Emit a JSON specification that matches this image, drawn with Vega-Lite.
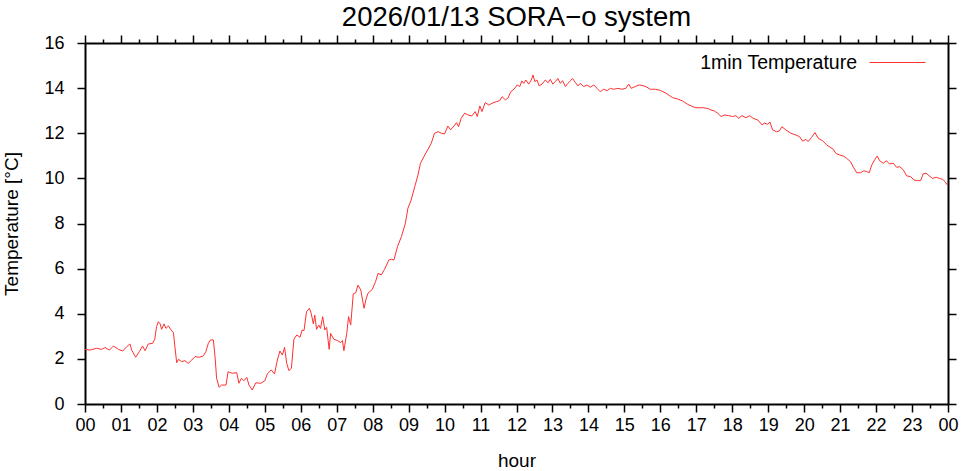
{
"$schema": "https://vega.github.io/schema/vega-lite/v6.json",
"width": 863, "height": 361,
"autosize": "none",
"padding": {"left": 85, "top": 43, "right": 13, "bottom": 67},
"background": "white",
"title": {"text": "2026/01/13 SORA−o system", "font": "Liberation Sans", "fontSize": 27.5, "fontWeight": "normal", "color": "black", "offset": 3, "anchor": "middle"},
"config": {"view": {"stroke": null}, "font": "Liberation Sans"},
"data": {"values": [
{"hour":0.00,"temp":2.42},{"hour":0.14,"temp":2.39},{"hour":0.32,"temp":2.47},{"hour":0.46,"temp":2.42},{"hour":0.56,"temp":2.50},{"hour":0.68,"temp":2.39},{"hour":0.79,"temp":2.57},{"hour":0.93,"temp":2.42},{"hour":1.05,"temp":2.35},{"hour":1.16,"temp":2.54},{"hour":1.25,"temp":2.66},{"hour":1.30,"temp":2.39},{"hour":1.41,"temp":2.07},{"hour":1.51,"temp":2.32},{"hour":1.60,"temp":2.57},{"hour":1.67,"temp":2.36},{"hour":1.76,"temp":2.66},{"hour":1.88,"temp":2.69},{"hour":1.94,"temp":2.87},{"hour":1.99,"temp":3.43},{"hour":2.04,"temp":3.65},{"hour":2.09,"temp":3.55},{"hour":2.13,"temp":3.31},{"hour":2.20,"temp":3.55},{"hour":2.25,"temp":3.35},{"hour":2.32,"temp":3.46},{"hour":2.38,"temp":3.31},{"hour":2.46,"temp":3.16},{"hour":2.50,"temp":2.54},{"hour":2.55,"temp":1.83},{"hour":2.60,"temp":1.98},{"hour":2.69,"temp":1.88},{"hour":2.78,"temp":1.92},{"hour":2.87,"temp":1.80},{"hour":2.97,"temp":1.95},{"hour":3.06,"temp":2.10},{"hour":3.18,"temp":2.07},{"hour":3.29,"temp":2.13},{"hour":3.36,"temp":2.32},{"hour":3.43,"temp":2.69},{"hour":3.49,"temp":2.84},{"hour":3.57,"temp":2.84},{"hour":3.62,"temp":2.03},{"hour":3.66,"temp":1.14},{"hour":3.73,"temp":0.74},{"hour":3.80,"temp":0.84},{"hour":3.92,"temp":0.84},{"hour":3.98,"temp":1.43},{"hour":4.10,"temp":1.36},{"hour":4.22,"temp":1.39},{"hour":4.28,"temp":0.92},{"hour":4.35,"temp":1.14},{"hour":4.42,"temp":1.03},{"hour":4.50,"temp":1.18},{"hour":4.56,"temp":0.84},{"hour":4.65,"temp":0.62},{"hour":4.75,"temp":0.94},{"hour":4.89,"temp":0.92},{"hour":5.00,"temp":1.03},{"hour":5.07,"temp":1.33},{"hour":5.18,"temp":1.51},{"hour":5.27,"temp":1.33},{"hour":5.35,"temp":1.95},{"hour":5.42,"temp":2.35},{"hour":5.49,"temp":2.17},{"hour":5.55,"temp":2.51},{"hour":5.61,"temp":1.80},{"hour":5.67,"temp":1.48},{"hour":5.74,"temp":1.58},{"hour":5.81,"temp":2.87},{"hour":5.89,"temp":3.06},{"hour":5.98,"temp":2.96},{"hour":6.04,"temp":3.28},{"hour":6.09,"temp":3.25},{"hour":6.16,"temp":4.09},{"hour":6.24,"temp":4.24},{"hour":6.29,"temp":4.02},{"hour":6.35,"temp":3.55},{"hour":6.39,"temp":3.94},{"hour":6.44,"temp":3.31},{"hour":6.50,"temp":3.50},{"hour":6.55,"temp":3.35},{"hour":6.61,"temp":3.87},{"hour":6.67,"temp":3.28},{"hour":6.72,"temp":3.40},{"hour":6.79,"temp":2.42},{"hour":6.83,"temp":3.13},{"hour":6.92,"temp":2.87},{"hour":7.02,"temp":2.81},{"hour":7.11,"temp":2.72},{"hour":7.16,"temp":2.81},{"hour":7.20,"temp":2.36},{"hour":7.28,"temp":3.13},{"hour":7.33,"temp":3.87},{"hour":7.39,"temp":3.50},{"hour":7.46,"temp":4.88},{"hour":7.53,"temp":4.93},{"hour":7.59,"temp":5.27},{"hour":7.67,"temp":5.05},{"hour":7.76,"temp":4.24},{"hour":7.81,"temp":4.61},{"hour":7.87,"temp":4.91},{"hour":7.99,"temp":5.08},{"hour":8.08,"temp":5.42},{"hour":8.15,"temp":5.79},{"hour":8.24,"temp":5.72},{"hour":8.33,"temp":5.97},{"hour":8.45,"temp":6.38},{"hour":8.52,"temp":6.42},{"hour":8.59,"temp":6.38},{"hour":8.69,"temp":6.97},{"hour":8.80,"temp":7.42},{"hour":8.91,"temp":8.01},{"hour":8.98,"temp":8.67},{"hour":9.07,"temp":9.04},{"hour":9.17,"temp":9.63},{"hour":9.26,"temp":10.15},{"hour":9.33,"temp":10.67},{"hour":9.45,"temp":11.04},{"hour":9.54,"temp":11.29},{"hour":9.63,"temp":11.56},{"hour":9.72,"temp":12.00},{"hour":9.82,"temp":12.07},{"hour":9.91,"temp":12.00},{"hour":10.00,"temp":11.97},{"hour":10.09,"temp":12.32},{"hour":10.17,"temp":12.15},{"hour":10.26,"temp":12.32},{"hour":10.33,"temp":12.47},{"hour":10.39,"temp":12.29},{"hour":10.46,"temp":12.66},{"hour":10.56,"temp":12.89},{"hour":10.65,"temp":12.81},{"hour":10.76,"temp":12.77},{"hour":10.85,"temp":12.96},{"hour":10.91,"temp":12.74},{"hour":10.98,"temp":13.21},{"hour":11.04,"temp":12.96},{"hour":11.13,"temp":13.36},{"hour":11.23,"temp":13.25},{"hour":11.32,"temp":13.33},{"hour":11.44,"temp":13.40},{"hour":11.53,"temp":13.44},{"hour":11.60,"temp":13.62},{"hour":11.69,"temp":13.48},{"hour":11.76,"temp":13.55},{"hour":11.84,"temp":13.84},{"hour":11.93,"temp":13.95},{"hour":12.02,"temp":14.14},{"hour":12.09,"temp":14.07},{"hour":12.15,"temp":14.32},{"hour":12.20,"temp":14.21},{"hour":12.26,"temp":14.36},{"hour":12.34,"temp":14.18},{"hour":12.41,"temp":14.36},{"hour":12.46,"temp":14.58},{"hour":12.51,"temp":14.29},{"hour":12.57,"temp":14.36},{"hour":12.63,"temp":14.10},{"hour":12.71,"temp":14.18},{"hour":12.80,"temp":14.36},{"hour":12.88,"temp":14.24},{"hour":12.94,"temp":14.39},{"hour":13.01,"temp":14.18},{"hour":13.08,"temp":14.29},{"hour":13.15,"temp":14.43},{"hour":13.22,"temp":14.21},{"hour":13.28,"temp":14.33},{"hour":13.36,"temp":14.07},{"hour":13.43,"temp":14.21},{"hour":13.50,"temp":14.33},{"hour":13.56,"temp":14.43},{"hour":13.64,"temp":14.24},{"hour":13.71,"temp":14.10},{"hour":13.77,"temp":14.21},{"hour":13.87,"temp":14.07},{"hour":13.96,"temp":14.14},{"hour":14.05,"temp":14.04},{"hour":14.15,"temp":14.14},{"hour":14.24,"temp":13.99},{"hour":14.33,"temp":13.84},{"hour":14.42,"temp":13.95},{"hour":14.52,"temp":13.89},{"hour":14.61,"temp":13.99},{"hour":14.70,"temp":13.95},{"hour":14.82,"temp":13.99},{"hour":14.93,"temp":13.95},{"hour":15.04,"temp":13.99},{"hour":15.12,"temp":14.18},{"hour":15.19,"temp":13.99},{"hour":15.30,"temp":14.07},{"hour":15.41,"temp":14.14},{"hour":15.54,"temp":14.10},{"hour":15.63,"temp":14.04},{"hour":15.72,"temp":13.95},{"hour":15.86,"temp":13.95},{"hour":16.00,"temp":13.90},{"hour":16.16,"temp":13.77},{"hour":16.34,"temp":13.58},{"hour":16.48,"temp":13.52},{"hour":16.62,"temp":13.43},{"hour":16.76,"temp":13.28},{"hour":16.90,"temp":13.18},{"hour":16.99,"temp":13.13},{"hour":17.18,"temp":13.13},{"hour":17.32,"temp":13.10},{"hour":17.41,"temp":13.03},{"hour":17.50,"temp":12.99},{"hour":17.60,"temp":12.88},{"hour":17.69,"temp":12.74},{"hour":17.78,"temp":12.81},{"hour":17.90,"temp":12.78},{"hour":18.01,"temp":12.74},{"hour":18.10,"temp":12.78},{"hour":18.18,"temp":12.66},{"hour":18.27,"temp":12.78},{"hour":18.38,"temp":12.69},{"hour":18.49,"temp":12.78},{"hour":18.58,"temp":12.66},{"hour":18.71,"temp":12.59},{"hour":18.83,"temp":12.37},{"hour":18.89,"temp":12.45},{"hour":18.98,"temp":12.40},{"hour":19.05,"temp":12.49},{"hour":19.12,"temp":12.15},{"hour":19.23,"temp":12.07},{"hour":19.31,"temp":12.10},{"hour":19.38,"temp":12.29},{"hour":19.49,"temp":12.15},{"hour":19.63,"temp":12.00},{"hour":19.77,"temp":11.92},{"hour":19.87,"temp":11.85},{"hour":19.96,"temp":11.65},{"hour":20.05,"temp":11.73},{"hour":20.11,"temp":11.63},{"hour":20.21,"temp":11.82},{"hour":20.30,"temp":12.03},{"hour":20.39,"temp":11.78},{"hour":20.51,"temp":11.67},{"hour":20.63,"temp":11.48},{"hour":20.72,"temp":11.38},{"hour":20.81,"temp":11.29},{"hour":20.88,"temp":11.11},{"hour":20.98,"temp":11.04},{"hour":21.09,"temp":10.99},{"hour":21.18,"temp":10.89},{"hour":21.29,"temp":10.74},{"hour":21.37,"temp":10.49},{"hour":21.46,"temp":10.25},{"hour":21.57,"temp":10.25},{"hour":21.66,"temp":10.34},{"hour":21.74,"temp":10.30},{"hour":21.81,"temp":10.25},{"hour":21.88,"temp":10.59},{"hour":21.97,"temp":10.85},{"hour":22.03,"temp":10.99},{"hour":22.10,"temp":10.78},{"hour":22.20,"temp":10.67},{"hour":22.29,"temp":10.78},{"hour":22.37,"temp":10.64},{"hour":22.48,"temp":10.67},{"hour":22.57,"temp":10.49},{"hour":22.66,"temp":10.52},{"hour":22.76,"temp":10.37},{"hour":22.85,"temp":10.11},{"hour":22.96,"temp":10.08},{"hour":23.05,"temp":9.93},{"hour":23.15,"temp":9.90},{"hour":23.24,"temp":9.90},{"hour":23.31,"temp":10.20},{"hour":23.39,"temp":10.23},{"hour":23.48,"temp":10.11},{"hour":23.57,"temp":10.00},{"hour":23.67,"temp":10.05},{"hour":23.76,"temp":10.00},{"hour":23.85,"temp":9.96},{"hour":23.92,"temp":9.85},{"hour":23.98,"temp":9.71}
]},
"layer": [
 {
  "mark": {"type": "line", "strokeWidth": 1},
  "encoding": {
   "x": {"field": "hour", "type": "quantitative",
     "scale": {"domain": [0, 24], "nice": false, "zero": false},
     "axis": {"orient": "bottom", "values": [0,0.5,1,1.5,2,2.5,3,3.5,4,4.5,5,5.5,6,6.5,7,7.5,8,8.5,9,9.5,10,10.5,11,11.5,12,12.5,13,13.5,14,14.5,15,15.5,16,16.5,17,17.5,18,18.5,19,19.5,20,20.5,21,21.5,22,22.5,23,23.5,24],
       "labelExpr": "datum.value % 1 != 0 ? '' : (datum.value == 24 ? '00' : (datum.value < 10 ? '0' + datum.value : '' + datum.value))",
       "tickSize": {"condition": {"test": "datum.value % 1 == 0", "value": 8}, "value": 4},
       "grid": false, "domainColor": "black", "domainWidth": 2, "tickColor": "black", "tickWidth": 1.5,
       "labelFont": "Liberation Sans", "labelFontSize": 18, "labelColor": "black", "labelPadding": 4, "labelFlush": false, "labelOverlap": false,
       "title": "hour", "titleFont": "Liberation Sans", "titleFontSize": 19, "titleFontWeight": "normal", "titleColor": "black", "titlePadding": 17}},
   "y": {"field": "temp", "type": "quantitative",
     "scale": {"domain": [0, 16], "nice": false},
     "axis": {"orient": "left", "values": [0,2,4,6,8,10,12,14,16], "grid": false, "domainColor": "black", "domainWidth": 2, "tickColor": "black", "tickWidth": 1.5, "tickSize": 8,
       "labelFont": "Liberation Sans", "labelFontSize": 18, "labelColor": "black", "labelPadding": 13,
       "title": "Temperature [°C]", "titleFont": "Liberation Sans", "titleFontSize": 19, "titleFontWeight": "normal", "titleColor": "black", "titlePadding": 22}},
   "color": {"datum": "1min Temperature", "type": "nominal", "scale": {"range": ["#ff3030"]},
     "legend": {"orient": "none", "legendX": 784, "legendY": -9, "title": null, "symbolType": "stroke", "symbolSize": 3136, "symbolStrokeWidth": 1, "symbolStrokeColor": "#ff3030",
       "labelAlign": "right", "labelOffset": -69, "labelFont": "Liberation Sans", "labelFontSize": 19.5, "labelColor": "black", "labelLimit": 400, "padding": 0, "offset": 0}}
  }
 },
 {
  "mark": {"type": "line", "strokeOpacity": 0},
  "encoding": {
   "x": {"field": "hour", "type": "quantitative",
     "axis": {"orient": "top", "values": [0,0.5,1,1.5,2,2.5,3,3.5,4,4.5,5,5.5,6,6.5,7,7.5,8,8.5,9,9.5,10,10.5,11,11.5,12,12.5,13,13.5,14,14.5,15,15.5,16,16.5,17,17.5,18,18.5,19,19.5,20,20.5,21,21.5,22,22.5,23,23.5,24],
       "labels": false, "title": null,
       "tickSize": {"condition": {"test": "datum.value % 1 == 0", "value": 8}, "value": 4},
       "grid": false, "domainColor": "black", "domainWidth": 2, "tickColor": "black", "tickWidth": 1.5}},
   "y": {"field": "temp", "type": "quantitative",
     "axis": {"orient": "right", "values": [0,2,4,6,8,10,12,14,16], "labels": false, "title": null, "tickSize": 8,
       "grid": false, "domainColor": "black", "domainWidth": 2, "tickColor": "black", "tickWidth": 1.5}}
  }
 }
],
"resolve": {"axis": {"x": "independent", "y": "independent"}}
}
